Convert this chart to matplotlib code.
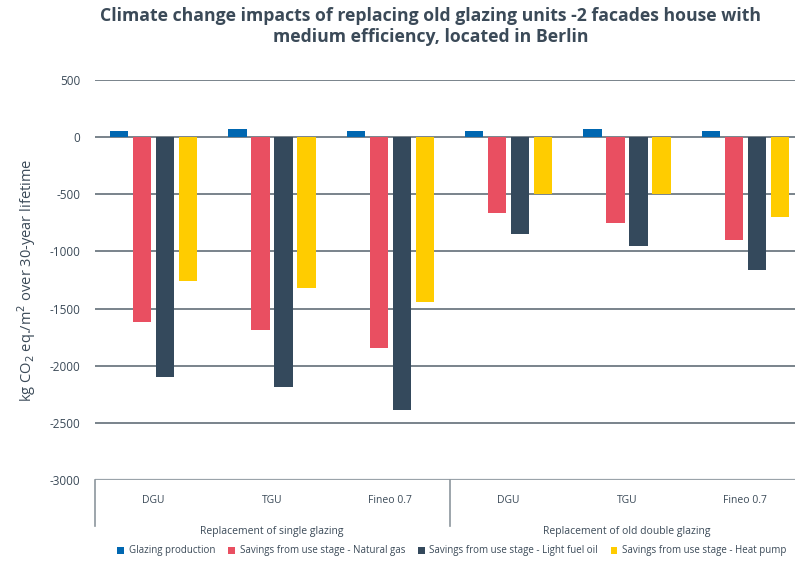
import numpy as np
import matplotlib
matplotlib.use("Agg")
from matplotlib import pyplot as plt
from matplotlib.patches import Patch

# data
categories = ["DGU", "TGU", "Fineo 0.7", "DGU", "TGU", "Fineo 0.7"]
groups = ["Replacement of single glazing", "Replacement of old double glazing"]
series_names = ["Glazing production",
                "Savings from use stage - Natural gas",
                "Savings from use stage - Light fuel oil",
                "Savings from use stage - Heat pump"]
glazing = [58, 73, 55, 55, 73, 55]
natural_gas = [-1620, -1690, -1845, -660, -750, -900]
fuel_oil = [-2100, -2190, -2390, -845, -955, -1165]
heat_pump = [-1260, -1320, -1440, -500, -500, -700]
yticks = [500, 0, -500, -1000, -1500, -2000, -2500, -3000]

colors = ["#0067b1", "#e94f61", "#34495c", "#ffcc00"]
text_col = "#3b4a58"
grid_col = "#55626c"

plt.rcParams['font.family'] = ['Open Sans', 'DejaVu Sans']

fig = plt.figure(figsize=(7.95, 5.62), dpi=100)
W, H = 795.0, 562.0
# axes run a little past the right edge of the figure, as in the reference
ax = fig.add_axes([94.5 / W, (H - 480) / H, 710 / W, 400 / H])

x = np.arange(len(categories))
step = 0.194
width = 0.155
series = [glazing, natural_gas, fuel_oil, heat_pump]
for i, vals in enumerate(series):
    ax.bar(x + (i - 1.5) * step, vals, width, color=colors[i], zorder=3)

ax.set_xlim(-0.5, len(categories) - 0.5)
ax.set_ylim(-3000, 500)
for t in yticks:
    if t == -3000:
        ax.axhline(t, color="#9aa3aa", lw=1.6, zorder=2)
    else:
        ax.axhline(t, color=grid_col, lw=1.1, zorder=2)
ax.set_yticks(yticks)
ax.set_yticklabels([str(t) for t in yticks], fontsize=8.5, color=text_col)
ax.tick_params(axis='y', length=0, pad=10)
ax.set_xticks([])
for s in ax.spines.values():
    s.set_visible(False)

ax.set_ylabel("kg CO$_2$ eq./m$^2$ over 30-year lifetime", fontsize=10.5,
              color=text_col)
ax.yaxis.set_label_coords(-0.08, 0.5)

# category box below the axis
trans = ax.get_xaxis_transform()
for xs in [-0.5, 2.5]:
    ax.plot([xs, xs], [0, -0.115], transform=trans, color="#8c969d",
            lw=1.2, clip_on=False)
for xi, c in zip(x, categories):
    ax.text(xi, -0.052, c, transform=trans, ha="center", va="center",
            fontsize=7.5, color=text_col)
for gi, g in enumerate(groups):
    ax.text(1 + 3 * gi, -0.128, g, transform=trans, ha="center", va="center",
            fontsize=7.5, color=text_col)

fig.suptitle("Climate change impacts of replacing old glazing units -2 facades house with\n"
             "medium efficiency, located in Berlin",
             x=431 / W, y=1 - 7 / H, fontsize=12.7, fontweight="bold",
             color=text_col, linespacing=1.25, va="top")

handles = [Patch(facecolor=c) for c in colors]
fig.legend(handles, series_names, loc="center", bbox_to_anchor=(452 / W, 1 - 551 / H),
           ncol=4, frameon=False, fontsize=7, handlelength=0.7, handleheight=0.7,
           handletextpad=0.5, columnspacing=1.3, labelcolor=text_col)

fig.savefig("out.png", dpi=100)
